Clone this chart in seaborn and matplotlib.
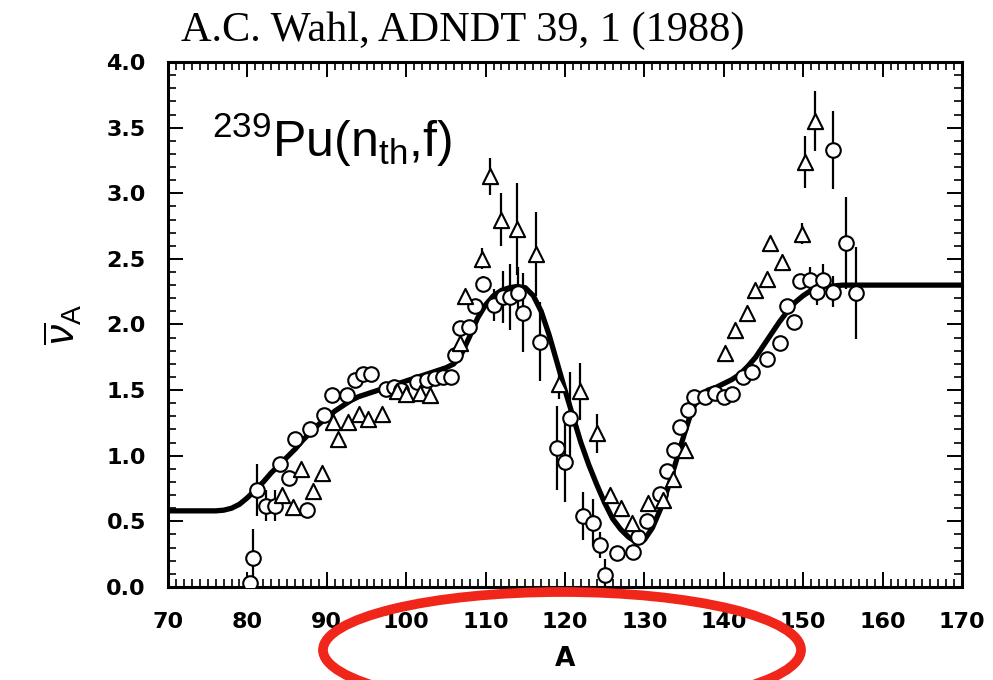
import numpy as np
import pandas as pd
import matplotlib
matplotlib.use("Agg")
import matplotlib.pyplot as plt
import seaborn as sns
from matplotlib.patches import Ellipse
from matplotlib.ticker import MultipleLocator

# Systematic fit of the average neutron emission per fragment
curve_A = [70, 76, 77, 78, 79, 80, 81, 82, 83, 84, 85, 86, 87, 88, 89, 90, 91, 92, 93, 94,
           95, 96, 97, 98, 99, 100, 101, 102, 103, 104, 105, 106, 107, 108, 109, 110, 111,
           112, 113, 114, 115, 116, 117, 118, 119, 120, 121, 122, 123, 124, 125, 126, 127,
           128, 129, 130, 131, 132, 133, 134, 135, 136, 137, 138, 139, 140, 141, 142, 143,
           144, 145, 146, 147, 148, 149, 150, 151, 152, 153, 155, 170]
curve_nu = [0.58, 0.58, 0.585, 0.60, 0.63, 0.68, 0.74, 0.80, 0.87, 0.93, 0.99, 1.05, 1.12,
            1.18, 1.24, 1.29, 1.34, 1.38, 1.42, 1.45, 1.47, 1.49, 1.51, 1.53, 1.55, 1.57,
            1.59, 1.61, 1.63, 1.65, 1.67, 1.70, 1.78, 1.91, 2.05, 2.15, 2.22, 2.26, 2.28,
            2.29, 2.28, 2.22, 2.10, 1.92, 1.71, 1.50, 1.30, 1.10, 0.93, 0.78, 0.64, 0.52,
            0.44, 0.38, 0.34, 0.36, 0.45, 0.59, 0.76, 0.96, 1.16, 1.35, 1.46, 1.50, 1.52,
            1.55, 1.58, 1.62, 1.68, 1.75, 1.84, 1.93, 2.02, 2.10, 2.17, 2.22, 2.26, 2.28,
            2.29, 2.30, 2.30]

# Measured values, first data set (circles)
circ_A = [80.3, 80.7, 81.2, 82.3, 83.5, 84.1, 85.2, 86.0, 87.5, 87.9, 89.6, 90.6, 92.5,
          93.6, 94.6, 95.6, 97.5, 98.4, 99.4, 101.3, 102.6, 103.6, 104.6, 105.6, 106.1,
          106.8, 107.9, 108.7, 109.7, 111.0, 112.2, 113.1, 114.1, 114.7, 116.9, 119.0,
          120.0, 120.6, 122.3, 123.5, 124.4, 125.0, 126.5, 128.6, 129.2, 130.3, 131.9,
          132.8, 133.7, 134.5, 135.5, 136.2, 137.6, 138.9, 140.0, 141.0, 142.4, 143.5,
          145.4, 147.1, 147.9, 148.8, 149.6, 150.8, 151.7, 152.5, 153.7, 153.7, 155.4, 156.6]
circ_nu = [0.03, 0.22, 0.74, 0.62, 0.62, 0.94, 0.83, 1.13, 0.59, 1.20, 1.31, 1.46, 1.46,
           1.58, 1.62, 1.62, 1.51, 1.52, 1.50, 1.56, 1.58, 1.59, 1.60, 1.60, 1.77,
           1.97, 1.98, 2.14, 2.31, 2.15, 2.21, 2.21, 2.24, 2.09, 1.87, 1.06,
           0.95, 1.29, 0.54, 0.49, 0.32, 0.09, 0.26, 0.27, 0.38, 0.50, 0.71,
           0.88, 1.04, 1.22, 1.35, 1.45, 1.45, 1.48, 1.45, 1.47, 1.60, 1.64,
           1.74, 1.86, 2.14, 2.02, 2.33, 2.34, 2.25, 2.34, 2.25, 3.33, 2.62, 2.24]
circ_err = [0.0, 0.22, 0.20, 0.12, 0.12, 0.05, 0.0, 0.05, 0.05, 0.05, 0.05, 0.0, 0.0,
            0.0, 0.0, 0.0, 0.0, 0.0, 0.0, 0.0, 0.0, 0.0, 0.0, 0.0, 0.0,
            0.0, 0.0, 0.0, 0.06, 0.12, 0.20, 0.25, 0.20, 0.30, 0.30, 0.32,
            0.30, 0.35, 0.18, 0.18, 0.10, 0.12, 0.05, 0.0, 0.0, 0.0, 0.0,
            0.0, 0.0, 0.0, 0.0, 0.0, 0.0, 0.0, 0.0, 0.0, 0.0, 0.0,
            0.0, 0.0, 0.05, 0.05, 0.05, 0.10, 0.10, 0.12, 0.12, 0.30, 0.35, 0.35]

# Measured values, second data set (triangles)
tri_A = [84.3, 85.8, 86.8, 88.3, 89.4, 90.8, 91.4, 92.7, 94.0, 95.2, 96.9, 98.8, 100.0,
         101.7, 103.0, 106.8, 107.4, 109.5, 110.5, 112.0, 114.0, 116.4, 119.2, 121.9,
         124.0, 125.7, 127.1, 128.4, 130.5, 132.3, 133.6, 135.1, 140.2, 141.4, 142.9,
         143.9, 145.4, 145.8, 147.3, 149.8, 150.2, 151.5]
tri_nu = [0.70, 0.61, 0.90, 0.73, 0.87, 1.26, 1.13, 1.26, 1.32, 1.28, 1.32, 1.49, 1.47,
          1.48, 1.46, 1.86, 2.22, 2.50, 3.13, 2.80, 2.73, 2.54, 1.55, 1.49,
          1.17, 0.70, 0.60, 0.49, 0.64, 0.66, 0.82, 1.04, 1.78, 1.96, 2.09,
          2.26, 2.35, 2.62, 2.48, 2.69, 3.24, 3.55]
tri_err = [0.0, 0.0, 0.0, 0.0, 0.0, 0.0, 0.0, 0.0, 0.0, 0.0, 0.0, 0.0, 0.0,
           0.0, 0.0, 0.0, 0.0, 0.08, 0.14, 0.20, 0.35, 0.32, 0.12, 0.22,
           0.15, 0.05, 0.0, 0.0, 0.0, 0.0, 0.0, 0.0, 0.0, 0.0, 0.0,
           0.0, 0.0, 0.0, 0.0, 0.08, 0.20, 0.23]

x_ticks = [70, 80, 90, 100, 110, 120, 130, 140, 150, 160, 170]
y_ticks = [0.0, 0.5, 1.0, 1.5, 2.0, 2.5, 3.0, 3.5, 4.0]

sns.set_theme(style="white")
plt.rcParams["font.family"] = ["DejaVu Sans"]
plt.rcParams["text.color"] = "black"
plt.rcParams["axes.labelcolor"] = "black"
plt.rcParams["xtick.color"] = "black"
plt.rcParams["ytick.color"] = "black"
plt.rcParams["mathtext.fontset"] = "custom"
plt.rcParams["mathtext.rm"] = "Liberation Sans"
plt.rcParams["mathtext.it"] = "Liberation Sans:italic"

fig = plt.figure(figsize=(9.93, 6.80), dpi=100)
ax = fig.add_axes([0.1692, 0.1368, 0.7996, 0.772])

curve = pd.DataFrame({"A": curve_A, "nu": curve_nu})
circ = pd.DataFrame({"A": circ_A, "nu": circ_nu, "err": circ_err})
tri = pd.DataFrame({"A": tri_A, "nu": tri_nu, "err": tri_err})

# error bars first so open markers sit on top of them
for df in (circ, tri):
    sel = df[df["err"] > 0]
    ax.vlines(sel["A"], sel["nu"] - sel["err"], sel["nu"] + sel["err"],
              color="black", lw=1.6, zorder=2)

sns.lineplot(data=curve, x="A", y="nu", ax=ax, color="black", lw=3.8,
             zorder=3, legend=False)
sns.scatterplot(data=circ, x="A", y="nu", ax=ax, marker="o", s=110,
                facecolor="white", edgecolor="black", linewidth=1.5, zorder=4,
                legend=False)
sns.scatterplot(data=tri, x="A", y="nu", ax=ax, marker="^", s=120,
                facecolor="white", edgecolor="black", linewidth=1.5, zorder=4,
                legend=False)

ax.set_xlim(70, 170)
ax.set_ylim(0, 4.0)
ax.set_xticks(x_ticks)
ax.set_yticks(y_ticks)
ax.set_xticklabels([str(v) for v in x_ticks])
ax.set_yticklabels([f"{v:.1f}" for v in y_ticks])
ax.xaxis.set_minor_locator(MultipleLocator(1))
ax.yaxis.set_minor_locator(MultipleLocator(0.1))
ax.tick_params(which="both", direction="in", top=True, right=True,
               bottom=True, left=True, color="black", labelcolor="black")
ax.tick_params(which="major", length=11, width=1.4, labelsize=16)
ax.tick_params(axis="x", which="major", pad=18)
ax.tick_params(axis="y", which="major", pad=16)
ax.tick_params(which="minor", length=6, width=1.2)
for lab in ax.get_xticklabels() + ax.get_yticklabels():
    lab.set_fontweight("bold")
for sp in ax.spines.values():
    sp.set_color("black")
    sp.set_linewidth(2.2)

ax.set_xlabel("A", fontsize=19, fontweight="bold", labelpad=10, color="black")
ax.set_ylabel(r"$\overline{\nu}_{\mathrm{A}}$", fontsize=29, labelpad=16, color="black")

ax.text(0.055, 0.851, r"$^{239}$Pu(n$_{\mathrm{th}}$,f)", transform=ax.transAxes,
        fontsize=36, family="Liberation Sans", color="black", ha="left", va="center")

fig.text(0.466, 0.955, "A.C. Wahl, ADNDT 39, 1 (1988)", fontsize=30.5,
         family="Liberation Serif", color="black", ha="center", va="center")

# red hand-drawn style ring around the axis title
ring = Ellipse((562 / 993, 1 - 650 / 680), 478 / 993, 116 / 680,
               transform=fig.transFigure, fill=False, edgecolor="#f0261a",
               lw=7, zorder=10, clip_on=False)
fig.add_artist(ring)

fig.savefig("out.png", dpi=100)
